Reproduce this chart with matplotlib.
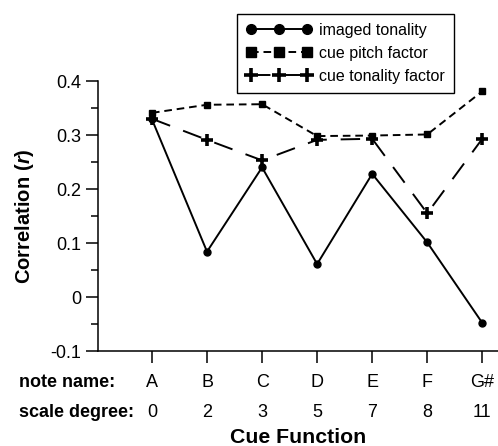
import numpy as np
import matplotlib
matplotlib.use("Agg")
import matplotlib.pyplot as plt
from matplotlib.ticker import MultipleLocator, FuncFormatter
import matplotlib.transforms as mtransforms

plt.rcParams['font.family'] = ['Liberation Sans', 'DejaVu Sans']
plt.rcParams['mathtext.fontset'] = 'custom'
plt.rcParams['mathtext.rm'] = 'Liberation Sans'
plt.rcParams['mathtext.bf'] = 'Liberation Sans:bold'
plt.rcParams['mathtext.it'] = 'Liberation Sans:italic:bold'
plt.rcParams['lines.scale_dashes'] = False

# ---- data ----
notes = ['A', 'B', 'C', 'D', 'E', 'F', 'G#']
degrees = ['0', '2', '3', '5', '7', '8', '11']
imaged_tonality = [0.329, 0.084, 0.240, 0.061, 0.228, 0.101, -0.048]
cue_pitch_factor = [0.341, 0.356, 0.357, 0.298, 0.299, 0.301, 0.381]
cue_tonality_factor = [0.330, 0.291, 0.253, 0.291, 0.293, 0.155, 0.293]
series_labels = ['imaged tonality', 'cue pitch factor', 'cue tonality factor']

W, H = 498, 446
fig = plt.figure(figsize=(W / 100, H / 100), dpi=100)
ax = fig.add_axes([98 / W, 1 - 351 / H, 400 / W, 270 / H])

x = np.arange(len(notes))
lw = 1.4
ax.plot(x, imaged_tonality, color='black', lw=lw, marker='o', ms=5,
        label=series_labels[0], clip_on=False, zorder=3)
ax.plot(x, cue_pitch_factor, color='black', lw=lw, marker='s', ms=5,
        dashes=(5.5, 3.5), label=series_labels[1], clip_on=False, zorder=3)
ax.plot(x, cue_tonality_factor, color='black', lw=lw, marker='+', ms=9,
        mew=2.6, dashes=(14, 10), label=series_labels[2], clip_on=False,
        zorder=3)

ax.set_xlim(-0.98, 6.285)
ax.set_ylim(-0.1, 0.4)
for s in ['top', 'right']:
    ax.spines[s].set_visible(False)
for s in ['left', 'bottom']:
    ax.spines[s].set_linewidth(1.1)

fs_tick = 13
ax.yaxis.set_major_locator(MultipleLocator(0.1))
ax.yaxis.set_minor_locator(MultipleLocator(0.05))
ax.yaxis.set_major_formatter(FuncFormatter(
    lambda v, p: '0' if abs(v) < 1e-9 else f'{v:.1f}'))
ax.tick_params(axis='y', which='major', length=8.6, width=1.1, pad=3.5,
               labelsize=fs_tick, direction='out')
ax.tick_params(axis='y', which='minor', length=5, width=1.1, direction='out')
ax.set_xticks(x)
ax.set_xticklabels([])
ax.tick_params(axis='x', which='major', length=8.6, width=1.1,
               direction='out')

trans = mtransforms.blended_transform_factory(ax.transData, ax.transAxes)
row1 = (351 - 387.3) / 270
row2 = (351 - 416.7) / 270
for xi, n, d in zip(x, notes, degrees):
    ax.text(xi, row1, n, transform=trans, ha='center', va='baseline',
            fontsize=fs_tick)
    ax.text(xi, row2, d, transform=trans, ha='center', va='baseline',
            fontsize=fs_tick)

ftrans = mtransforms.blended_transform_factory(fig.transFigure, ax.transAxes)
ax.text(19 / W, row1, 'note name:', transform=ftrans, ha='left',
        va='baseline', fontsize=fs_tick, fontweight='bold')
ax.text(19 / W, row2, 'scale degree:', transform=ftrans, ha='left',
        va='baseline', fontsize=fs_tick, fontweight='bold')

ax.text(0.5, (351 - 443.3) / 270, 'Cue Function', transform=ax.transAxes,
        ha='center', va='baseline', fontsize=15.3, fontweight='bold')

fig.text(25 / W, 1 - 216 / H, r'$\mathbf{Correlation\ (}\mathit{r}\mathbf{)}$',
         rotation=90, ha='center', va='center', fontsize=14.5)

leg = ax.legend(loc='upper left', bbox_to_anchor=(237 / W, 1 - 14 / H),
                bbox_transform=fig.transFigure, borderaxespad=0,
                numpoints=3, handlelength=4.1, handletextpad=0.5,
                fancybox=False, framealpha=1, edgecolor='black',
                fontsize=11.5, labelspacing=0.5, borderpad=0.56)
leg.get_frame().set_linewidth(1.0)
hs = leg.legend_handles
hs[0].set_markersize(7)
hs[1].set_markersize(7)
hs[2].set_markersize(10)

fig.savefig('out.png', dpi=100)
